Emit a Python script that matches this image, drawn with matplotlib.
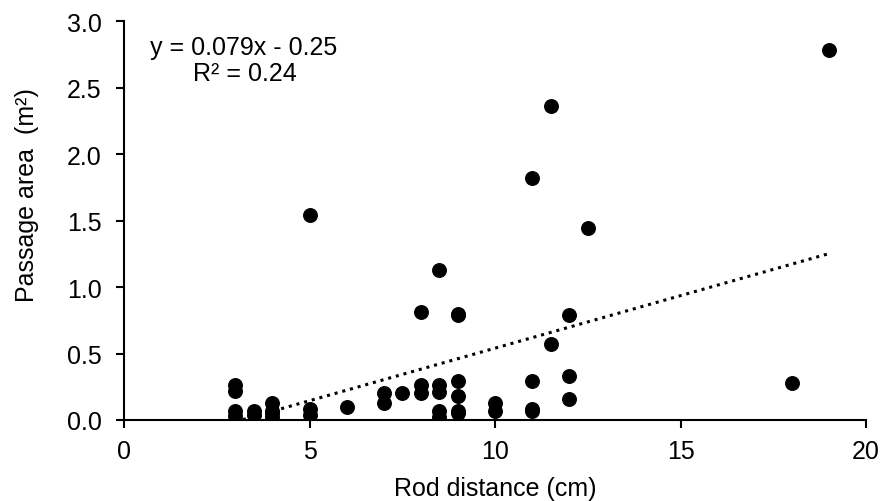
import matplotlib.pyplot as plt
import numpy as np

plt.rcParams['font.family'] = ['Liberation Sans', 'DejaVu Sans']

# rod distance (cm) and passage area (m2)
rod_dist = [3, 3, 3, 3, 3.5, 3.5, 4, 4, 4, 4, 5, 5, 5, 6,
            7, 7, 7.5, 8, 8, 8, 8.5, 8.5, 8.5, 8.5, 8.5,
            9, 9, 9, 9, 9, 9, 10, 10, 11, 11, 11, 11,
            11.5, 11.5, 12, 12, 12, 12.5, 18, 19]
area = [0.26, 0.22, 0.07, 0.03, 0.07, 0.04, 0.13, 0.07, 0.05, 0.02, 0.08, 0.04, 1.54, 0.10,
        0.20, 0.13, 0.20, 0.26, 0.20, 0.81, 0.26, 0.21, 0.07, 0.02, 1.13,
        0.29, 0.18, 0.07, 0.05, 0.80, 0.79, 0.13, 0.07, 0.29, 0.08, 0.07, 1.82,
        0.57, 2.36, 0.33, 0.16, 0.79, 1.44, 0.28, 2.78]

slope, intercept = 0.079, -0.25

fig = plt.figure(figsize=(8.84, 5.02), dpi=100)
ax = fig.add_axes([124/884, 1 - 421/502, (866-124)/884, (421-22)/502])

ax.scatter(rod_dist, area, s=95, color='black', zorder=3)

xt = np.linspace(min(rod_dist), max(rod_dist), 100)
ax.plot(xt, slope*xt + intercept, color='black', linestyle=(0, (1, 1.6)), linewidth=2.2)

ax.set_xlim(0, 20)
ax.set_ylim(0, 3.0)
ax.set_xticks([0, 5, 10, 15, 20])
ax.set_yticks(np.arange(0, 3.01, 0.5))
ax.yaxis.set_major_formatter(plt.FormatStrFormatter('%.1f'))
ax.spines['top'].set_visible(False)
ax.spines['right'].set_visible(False)
for s in ['left', 'bottom']:
    ax.spines[s].set_linewidth(1.5)
ax.tick_params(direction='out', length=6, width=1.5, labelsize=18)
ax.tick_params(axis='y', pad=10)
ax.tick_params(axis='x', pad=8)

ax.set_xlabel('Rod distance (cm)', fontsize=18)
ax.set_ylabel('Passage area  (m²)', fontsize=18)
ax.xaxis.set_label_coords(0.5, -0.14)
ax.yaxis.set_label_coords(-0.115, 0.566)

ax.text(0.035, 0.935, 'y = 0.079x - 0.25', transform=ax.transAxes,
        fontsize=18, va='center', ha='left')
ax.text(0.093, 0.870, 'R² = 0.24', transform=ax.transAxes,
        fontsize=18, va='center', ha='left')

fig.savefig('out.png', dpi=100)
